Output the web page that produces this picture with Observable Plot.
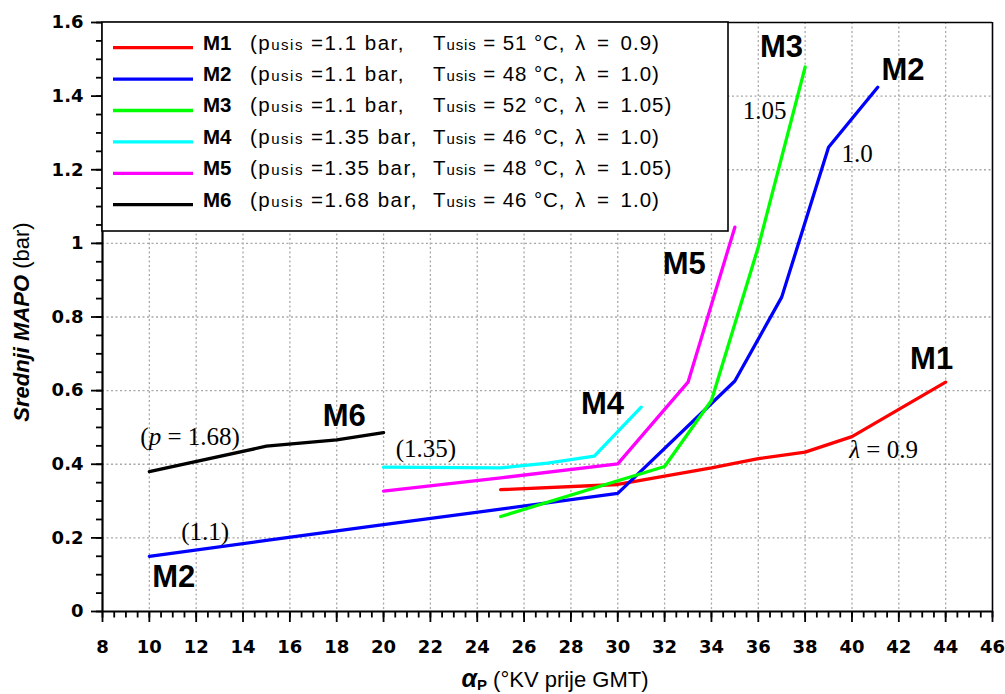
<!DOCTYPE html>
<html><head><meta charset="utf-8">
<script src="https://cdn.jsdelivr.net/npm/d3@7"></script>
<script src="https://cdn.jsdelivr.net/npm/@observablehq/plot@0.6"></script>
<style>body{margin:0;background:#fff;} svg{display:block}</style>
</head><body><div id="chart"></div>
<script>
// ---- data ----
const seriesNames = ["M1", "M2", "M3", "M4", "M5", "M6"];
const seriesColors = ["#ff0000", "#0000ff", "#00ff00", "#00ffff", "#ff00ff", "#000000"];

const m1X = [25, 30, 32, 34, 36, 38, 40, 44];
const m1Y = [0.331, 0.345, 0.368, 0.390, 0.415, 0.433, 0.475, 0.623];
const m2X = [10, 15, 20, 25, 30, 35, 37, 39, 41.1];
const m2Y = [0.150, 0.193, 0.236, 0.278, 0.321, 0.626, 0.854, 1.261, 1.424];
const m3X = [25, 32, 34, 36, 38];
const m3Y = [0.258, 0.394, 0.573, 0.99, 1.479];
const m4X = [20, 25, 27, 29, 31];
const m4Y = [0.392, 0.390, 0.403, 0.422, 0.555];
const m5X = [20, 25, 30, 33, 35];
const m5Y = [0.327, 0.363, 0.401, 0.623, 1.044];
const m6X = [10, 15, 18, 20];
const m6Y = [0.380, 0.449, 0.466, 0.486];

const legendP = ["1.1", "1.1", "1.1", "1.35", "1.35", "1.68"];
const legendT = ["51", "48", "52", "46", "48", "46"];
const legendLambda = ["0.9", "1.0", "1.05", "1.0", "1.05", "1.0"];

const labelText = ["M3", "M2", "M5", "M1", "M4", "M6", "M2"];
const labelX = [36.99, 42.18, 32.84, 43.40, 29.35, 18.32, 11.04];
const labelY = [1.505, 1.445, 0.9155, 0.660, 0.537, 0.505, 0.066];

const noteText = ["1.05", "1.0", "λ = 0.9", "(p = 1.68)", "(1.35)", "(1.1)"];
const noteX = [36.27, 40.22, 41.35, 11.74, 21.81, 12.38];
const noteY = [1.339, 1.221, 0.4165, 0.451, 0.419, 0.193];

const xMajor = [8,10,12,14,16,18,20,22,24,26,28,30,32,34,36,38,40,42,44,46];
const xGrid = [10,12,14,16,18,20,22,24,26,28,30,32,34,36,38,40,42,44];
const yMajor = [0, 0.2, 0.4, 0.6, 0.8, 1, 1.2, 1.4, 1.6];
const yGrid = [0.2, 0.4, 0.6, 0.8, 1, 1.2, 1.4];
const xMinor = d3.range(16, 93).map(i => i / 2);
const yMinor = d3.range(0, 33).map(i => i / 20);

// ---- build tables ----
const seriesX = [m1X, m2X, m3X, m4X, m5X, m6X];
const seriesY = [m1Y, m2Y, m3Y, m4Y, m5Y, m6Y];
const rows = [];
seriesNames.forEach((s, i) => seriesX[i].forEach((x, j) => rows.push({series: s, x, y: seriesY[i][j]})));
const labels = labelText.map((t, i) => ({t, x: labelX[i], y: labelY[i]}));
const notes = noteText.map((t, i) => ({t, x: noteX[i], y: noteY[i]}));

const SANS = "'Liberation Sans', Arial, Helvetica, sans-serif";
const WIDE = "'DejaVu Sans', Verdana, sans-serif";
const SERIF = "'Liberation Serif', 'Times New Roman', serif";

// tick lengths expressed in scale units (px / px-per-unit)
const W = 1005, H = 694, ML = 102, MR = 13, MT = 22, MB = 83;
const pxPerX = (W - ML - MR) / (46 - 8), pxPerY = (H - MT - MB) / 1.6;

const plot = Plot.plot({
  width: W, height: H,
  marginLeft: ML, marginRight: MR, marginTop: MT, marginBottom: MB,
  x: {domain: [8, 46], label: null, axis: null},
  y: {domain: [0, 1.6], label: null, axis: null},
  color: {domain: seriesNames, range: seriesColors},
  style: {fontFamily: SANS, background: "white"},
  marks: [
    Plot.gridX(xGrid, {stroke: "#a8a8a8", strokeOpacity: 1, strokeDasharray: "2,2.5", strokeWidth: 1.3}),
    Plot.gridY(yGrid, {stroke: "#a8a8a8", strokeOpacity: 1, strokeDasharray: "2,2.5", strokeWidth: 1.3}),
    // ticks
    Plot.ruleX(xMinor, {x: d => d, y1: 0, y2: -6.5 / pxPerY, stroke: "black", strokeWidth: 1.8}),
    Plot.ruleX(xMajor, {x: d => d, y1: 0, y2: -11 / pxPerY, stroke: "black", strokeWidth: 1.8}),
    Plot.ruleY(yMinor, {y: d => d, x1: 8, x2: 8 - 6 / pxPerX, stroke: "black", strokeWidth: 1.8}),
    Plot.ruleY(yMajor, {y: d => d, x1: 8, x2: 8 - 11 / pxPerX, stroke: "black", strokeWidth: 1.8}),
    // tick labels
    Plot.text(xMajor, {x: d => d, frameAnchor: "bottom", dy: 41, lineAnchor: "bottom", textAnchor: "middle",
      text: d => String(d), fontSize: 18, fontWeight: "bold", fontFamily: WIDE, fill: "black"}),
    Plot.text(yMajor, {y: d => d, frameAnchor: "left", dx: -19, lineAnchor: "middle", textAnchor: "end",
      text: d => String(d), fontSize: 18, fontWeight: "bold", fontFamily: WIDE, fill: "black"}),
    // frame
    Plot.ruleX([46], {stroke: "black", strokeWidth: 1.6}),
    Plot.ruleY([1.6], {stroke: "black", strokeWidth: 1.6}),
    Plot.ruleX([8], {stroke: "black", strokeWidth: 2.2}),
    Plot.ruleY([0], {stroke: "black", strokeWidth: 2.2}),
    Plot.line(rows, {x: "x", y: "y", z: "series", stroke: "series", strokeWidth: 3.3}),
    Plot.text(labels, {x: "x", y: "y", text: "t", fontSize: 31, fontWeight: "bold", lineAnchor: "bottom", textAnchor: "middle", fill: "black"}),
    Plot.text(notes, {x: "x", y: "y", text: "t", fontSize: 25, fontFamily: SERIF, lineAnchor: "bottom", textAnchor: "middle", fill: "black"})
  ]
});

const svg = d3.select(plot);

// italic symbols inside serif notes
svg.selectAll("text").each(function () {
  const s = this.textContent;
  if (s === "(p = 1.68)") {
    const t = d3.select(this).text(null);
    t.append("tspan").text("(");
    t.append("tspan").attr("font-style", "italic").text("p");
    t.append("tspan").text(" = 1.68)");
  } else if (s === "λ = 0.9") {
    const t = d3.select(this).text(null);
    t.append("tspan").attr("font-style", "italic").text("λ");
    t.append("tspan").text(" = 0.9");
  }
});

// legend
const lg = svg.append("g").attr("font-family", SANS).attr("fill", "black").attr("text-anchor", "start");
lg.append("rect").attr("x", 102).attr("y", 22).attr("width", 626).attr("height", 209)
  .attr("fill", "white").attr("stroke", "black").attr("stroke-width", 1.6);
seriesNames.forEach((name, i) => {
  const ly = 47.7 + i * 31.4;
  const base = ly + 1.8;
  lg.append("line").attr("x1", 113).attr("x2", 193).attr("y1", ly).attr("y2", ly)
    .attr("stroke", seriesColors[i]).attr("stroke-width", 3.3);
  lg.append("text").attr("x", 203).attr("y", base).attr("font-size", 20.5).attr("font-weight", "bold").text(name);
  const t1 = lg.append("text").attr("x", 250).attr("y", base).attr("font-size", 20.5).attr("letter-spacing", 1.5);
  t1.append("tspan").text("(p");
  t1.append("tspan").attr("font-size", 15).text("usis");
  t1.append("tspan").text(" =" + legendP[i] + " bar,");
  const t2 = lg.append("text").attr("x", 433).attr("y", base).attr("font-size", 20.5).attr("letter-spacing", 0.9);
  t2.append("tspan").text("T");
  t2.append("tspan").attr("font-size", 15).text("usis");
  t2.append("tspan").text(" = " + legendT[i] + " °C,");
  const t3 = lg.append("text").attr("x", 575).attr("y", base).attr("font-size", 20.5).attr("word-spacing", 4).attr("letter-spacing", 1);
  t3.append("tspan").text("λ = " + legendLambda[i] + ")");
});

// axis titles
const yt = svg.append("text").attr("font-family", SANS).attr("font-size", 22).attr("fill", "black")
  .attr("text-anchor", "middle").attr("transform", "translate(29,322) rotate(-90)");
yt.append("tspan").attr("font-weight", "bold").attr("font-style", "italic").text("Srednji MAPO");
yt.append("tspan").text(" (bar)");

const xt = svg.append("text").attr("font-family", SANS).attr("font-size", 22).attr("fill", "black")
  .attr("text-anchor", "middle").attr("x", 555).attr("y", 687);
xt.append("tspan").attr("font-style", "italic").attr("font-weight", "bold").attr("font-size", 25).text("α");
xt.append("tspan").attr("font-weight", "bold").attr("font-size", 15).attr("dy", 3).text("P");
xt.append("tspan").attr("dy", -3).text(" (°KV prije GMT)");

document.getElementById("chart").appendChild(plot);
</script>
</body></html>
